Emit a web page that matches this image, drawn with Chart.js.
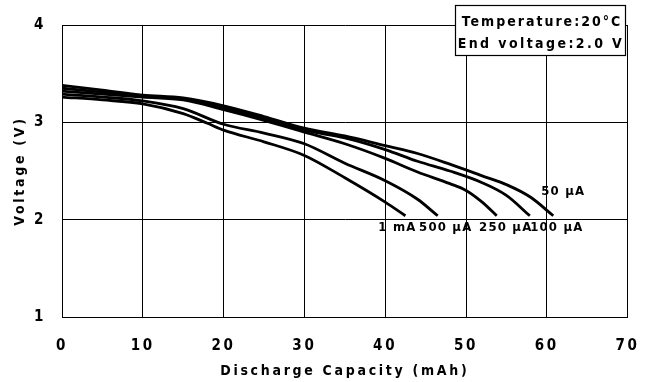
<!DOCTYPE html>
<html>
<head>
<meta charset="utf-8">
<script src="https://cdn.jsdelivr.net/npm/chart.js@4/dist/chart.umd.min.js"></script>
<style>
  body { margin: 0; background: #fff; }
  #wrap { width: 657px; height: 382px; }
</style>
</head>
<body>
<div id="wrap"><canvas id="dischargeChart" width="657" height="382"></canvas></div>
<script>
/* === DATA === */
const seriesNames = ['50 µA', '100 µA', '250 µA', '500 µA', '1 mA'];

const cap50 = [0, 5, 10, 15, 20, 25, 30, 35, 40, 44, 48, 52, 55, 58, 60.8];
const volt50 = [3.38, 3.33, 3.28, 3.25, 3.17, 3.06, 2.94, 2.86, 2.76, 2.68, 2.57, 2.45, 2.36, 2.23, 2.04];

const cap100 = [0, 5, 10, 15, 20, 25, 30, 35, 40, 44, 48, 52, 55, 57.9];
const volt100 = [3.35, 3.31, 3.27, 3.24, 3.15, 3.04, 2.92, 2.84, 2.72, 2.60, 2.50, 2.38, 2.25, 2.04];

const cap250 = [0, 5, 10, 15, 20, 25, 30, 35, 40, 44, 48, 50, 52, 53.8];
const volt250 = [3.32, 3.29, 3.26, 3.23, 3.13, 3.02, 2.90, 2.78, 2.63, 2.49, 2.37, 2.30, 2.18, 2.04];

const cap500 = [0, 5, 10, 15, 20, 25, 30, 35, 40, 44, 46.5];
const volt500 = [3.29, 3.26, 3.22, 3.14, 2.98, 2.89, 2.78, 2.58, 2.40, 2.21, 2.04];

const cap1m = [0, 5, 10, 15, 18, 20, 25, 30, 35, 40, 42.5];
const volt1m = [3.26, 3.23, 3.19, 3.09, 2.99, 2.92, 2.80, 2.66, 2.43, 2.18, 2.04];

const xTicks = [0, 10, 20, 30, 40, 50, 60, 70];
const yTicks = [1, 2, 3, 4];

const noteLines = ['Temperature:20°C', 'End voltage:2.0 V'];

/* === STYLE === */
const FONT = "'Liberation Sans Narrow', 'DejaVu Sans Condensed', sans-serif";
const SPACING = '2.7px';
// label centres relative to each curve's end point (px), same order as seriesNames
const labelShift = [[10, -24], [27, 12], [9, 12], [8, 12], [-8, 12]];

function pairs(xs, ys) {
    return xs.map((x, i) => ({ x: x, y: ys[i] }));
}

const allCaps = [cap50, cap100, cap250, cap500, cap1m];
const allVolts = [volt50, volt100, volt250, volt500, volt1m];

/* letter spacing for all chart text */
const spacingPlugin = {
    id: 'spacing',
    beforeDraw(chart) { chart.ctx.letterSpacing = SPACING; }
};

/* curve labels + condition box */
const annotPlugin = {
    id: 'annot',
    afterDraw(chart) {
        const ctx = chart.ctx;
        const xs = chart.scales.x, ys = chart.scales.y;
        ctx.save();
        ctx.fillStyle = '#000';
        ctx.textAlign = 'center';
        ctx.textBaseline = 'middle';
        ctx.letterSpacing = '1.2px';
        ctx.font = 'bold 13px ' + FONT;
        seriesNames.forEach((name, i) => {
            const c = allCaps[i], v = allVolts[i];
            const px = xs.getPixelForValue(c[c.length - 1]);
            const py = ys.getPixelForValue(v[v.length - 1]);
            ctx.fillText(name, px + labelShift[i][0], py + labelShift[i][1]);
        });

        // condition box
        ctx.fillStyle = '#fff';
        ctx.fillRect(455, 5, 170, 50);
        ctx.strokeStyle = '#000';
        ctx.lineWidth = 1.2;
        ctx.strokeRect(455.5, 5.5, 170, 50);
        ctx.fillStyle = '#000';
        ctx.font = 'bold 14px ' + FONT;
        ctx.letterSpacing = '2px';
        ctx.fillText(noteLines[0], 542, 22);
        ctx.letterSpacing = '2.4px';
        ctx.fillText(noteLines[1], 541, 44);
        ctx.restore();
    }
};

new Chart(document.getElementById('dischargeChart'), {
    type: 'line',
    data: {
        datasets: seriesNames.map((name, i) => ({
            label: name,
            data: pairs(allCaps[i], allVolts[i]),
            borderColor: '#000',
            borderWidth: 2.8,
            pointRadius: 0,
            fill: false,
            cubicInterpolationMode: 'monotone'
        }))
    },
    options: {
        responsive: false,
        animation: false,
        layout: { padding: { top: 21, right: 25, left: 0, bottom: 0 } },
        plugins: {
            legend: { display: false },
            tooltip: { enabled: false }
        },
        scales: {
            x: {
                type: 'linear',
                min: 0,
                max: 70,
                afterBuildTicks: s => { s.ticks = xTicks.map(v => ({ value: v })); },
                afterFit: s => { s.height = 65; },
                ticks: { color: '#000', padding: 20, font: { family: FONT, size: 15, weight: 'bold' } },
                grid: { color: '#000', lineWidth: 1, drawTicks: false },
                border: { color: '#000', width: 1 },
                title: {
                    display: true,
                    text: 'Discharge Capacity (mAh)',
                    color: '#000',
                    font: { family: FONT, size: 14, weight: 'bold' },
                    padding: { top: 0, bottom: 2 }
                }
            },
            y: {
                min: 1,
                max: 4,
                afterBuildTicks: s => { s.ticks = yTicks.map(v => ({ value: v })); },
                afterFit: s => { s.width = 62; },
                ticks: { color: '#000', padding: 16, font: { family: FONT, size: 15, weight: 'bold' } },
                grid: { color: '#000', lineWidth: 1, drawTicks: false },
                border: { color: '#000', width: 1 },
                title: {
                    display: true,
                    text: 'Voltage (V)',
                    color: '#000',
                    font: { family: FONT, size: 14, weight: 'bold' },
                    padding: { top: 12, bottom: 0 }
                }
            }
        }
    },
    plugins: [spacingPlugin, annotPlugin]
});
</script>
</body>
</html>
